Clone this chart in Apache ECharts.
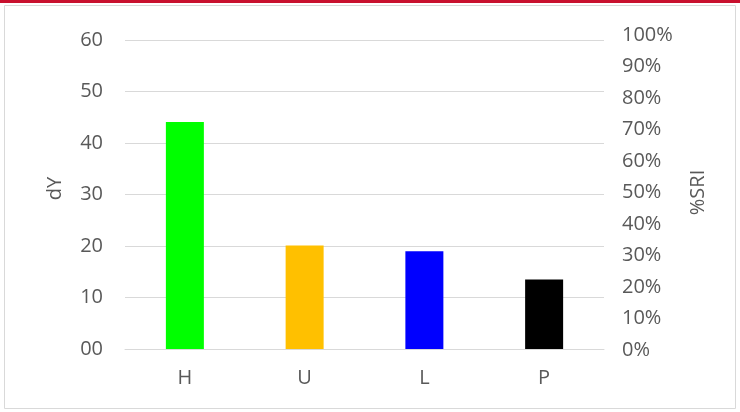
<!DOCTYPE html>
<html><head><meta charset="utf-8">
<script src="https://cdn.jsdelivr.net/npm/echarts@6/dist/echarts.min.js"></script>
<style>html,body{margin:0;padding:0;background:#fff}#c{width:740px;height:412px}</style>
</head><body><div id="c"></div>
<script>
const categories = ['H', 'U', 'L', 'P'];
const dYValues = [44.1, 20.1, 19.0, 13.5];
const barColors = ['#00FF00', '#FFC000', '#0000FF', '#000000'];
const leftTicks = { min: 0, max: 60, interval: 10 };
const rightTicks = { min: 0, max: 1, interval: 0.1 };

const font = 'Open Sans';
const txt = '#595959';
const fs = 20;
const chart = echarts.init(document.getElementById('c'), null, { renderer: 'canvas' });
chart.setOption({
  animation: false,
  graphic: [
    { type: 'rect', shape: { x: 0, y: 0, width: 740, height: 3 }, style: { fill: '#C8102E' } },
    { type: 'rect', shape: { x: 4.5, y: 5.5, width: 731, height: 403 }, style: { fill: 'none', stroke: '#d9d9d9', lineWidth: 1 } }
  ],
  grid: [
    { left: 125, right: 136, top: 40, bottom: 63 },
    { left: 125, right: 136, top: 35, bottom: 62 }
  ],
  xAxis: [
    { type: 'category', gridIndex: 0, data: categories,
      axisLine: { lineStyle: { color: '#d9d9d9', width: 1 } }, axisTick: { show: false },
      axisLabel: { color: txt, fontFamily: font, fontSize: fs, margin: 19 } },
    { type: 'category', gridIndex: 1, data: categories, show: false }
  ],
  yAxis: [
    { type: 'value', gridIndex: 0, min: leftTicks.min, max: leftTicks.max, interval: leftTicks.interval,
      name: 'dY', nameLocation: 'middle', nameGap: 60, nameRotate: 90,
      nameTextStyle: { color: txt, fontFamily: font, fontSize: fs, padding: [0, 0, 0, 12] },
      axisLine: { show: false }, axisTick: { show: false },
      axisLabel: { color: txt, fontFamily: font, fontSize: fs, margin: 22,
        formatter: v => String(v).padStart(2, '0') },
      splitLine: { lineStyle: { color: '#d9d9d9', width: 1 } } },
    { type: 'value', gridIndex: 1, position: 'right', min: rightTicks.min, max: rightTicks.max, interval: rightTicks.interval,
      name: '%SRI', nameLocation: 'middle', nameGap: 84, nameRotate: 90,
      nameTextStyle: { color: txt, fontFamily: font, fontSize: fs },
      axisLine: { show: false }, axisTick: { show: false }, splitLine: { show: false },
      axisLabel: { color: txt, fontFamily: font, fontSize: fs, margin: 18,
        formatter: v => Math.round(v * 100) + '%' } }
  ],
  series: [
    { type: 'bar', xAxisIndex: 0, yAxisIndex: 0, barWidth: 38,
      data: dYValues.map((v, i) => ({ value: v, itemStyle: { color: barColors[i] } })) }
  ]
});
</script></body></html>
